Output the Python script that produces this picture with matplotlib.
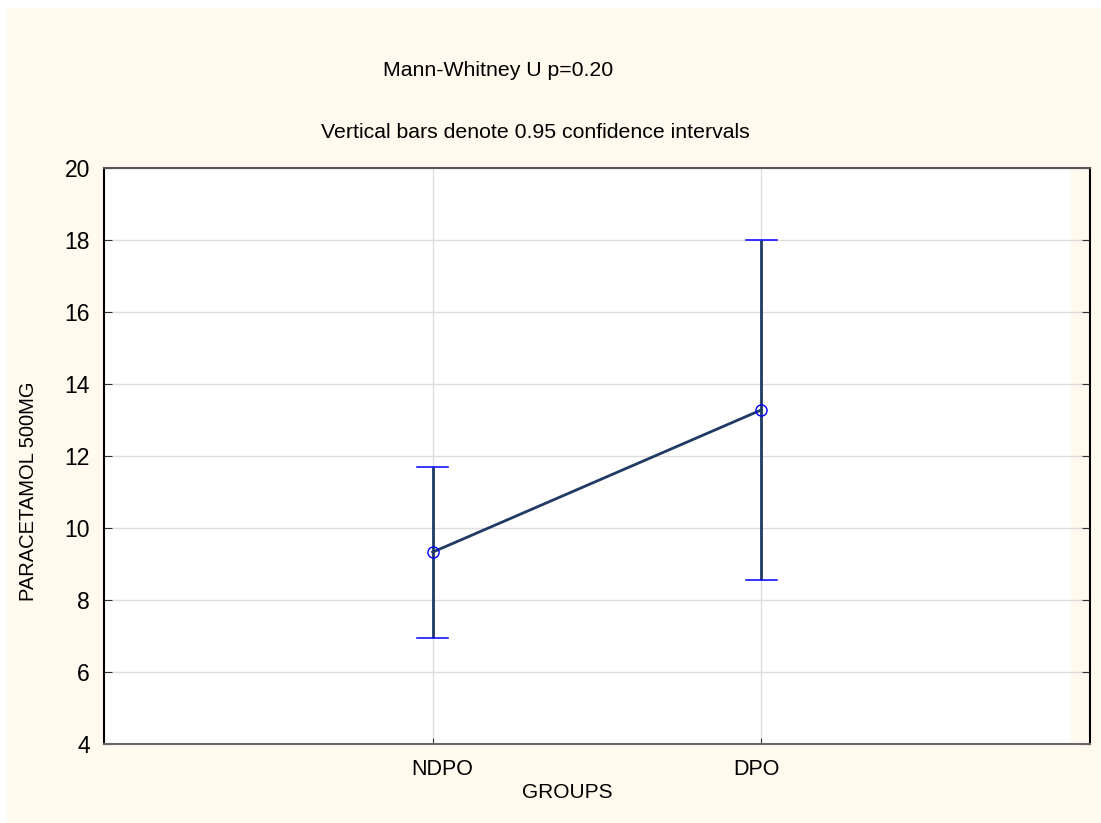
import numpy as np
import matplotlib.pyplot as plt
from matplotlib.patches import Rectangle
from matplotlib.transforms import ScaledTranslation

plt.rcParams['font.family'] = ['Liberation Sans', 'DejaVu Sans']

groups = ['NDPO', 'DPO']
means = [9.33, 13.28]
ci_low = [6.94, 8.56]
ci_high = [11.69, 18.0]

cream = '#fff9ee'
navy = '#1f3a64'
blue = '#0000ff'

W, H = 1101, 823
fig = plt.figure(figsize=(W / 100, H / 100), dpi=100)
fig.patches.append(Rectangle((7 / W, 0), 1 - 7 / W, 1 - 8 / H,
                             transform=fig.transFigure, facecolor=cream,
                             edgecolor='none', zorder=-10))

ax = fig.add_axes([104 / W, 1 - 744 / H, (1090 - 104) / W, (744 - 168) / H])
ax.set_facecolor('white')

x = np.arange(1, len(groups) + 1)
m = np.array(means)
lo = m - np.array(ci_low)
hi = np.array(ci_high) - m

ax.errorbar(x, m, yerr=[lo, hi], fmt='none', ecolor=navy, elinewidth=2,
            capsize=0, zorder=3)
for xi, l, h in zip(x, ci_low, ci_high):
    ax.plot([xi - 0.048, xi + 0.048], [l, l], color=blue, lw=1.1, zorder=4)
    ax.plot([xi - 0.048, xi + 0.048], [h, h], color=blue, lw=1.1, zorder=4)
ax.plot(x, m, color=navy, lw=2, zorder=3)
ax.plot(x, m, 'o', mfc='none', mec=blue, ms=8, mew=1, zorder=5)

# strip on the right side of the plot area
ax.add_patch(Rectangle((2.942, 4), 3 - 2.942, 16, facecolor=cream,
                       edgecolor='none', zorder=0))

ax.set_xlim(0, 3)
ax.set_ylim(4, 20)
ax.set_xticks(x)
ax.set_xticklabels(groups)
ax.set_yticks(np.arange(4, 21, 2))
ax.grid(True, color='#dddddd', lw=1, zorder=1)
ax.set_axisbelow(True)

ax.tick_params(axis='y', direction='in', length=6, labelsize=16.5, color='#333333',
               right=True, pad=10)
ax.tick_params(axis='x', direction='in', length=4, labelsize=15.5, color='#333333',
               pad=11)

# nudge the category labels sideways
for lab, dx in zip(ax.get_xticklabels(), [10, -5]):
    lab.set_transform(lab.get_transform() + ScaledTranslation(dx / 100, 0, fig.dpi_scale_trans))

ax.spines['left'].set_color('black')
ax.spines['right'].set_color('black')
ax.spines['top'].set_color('#555555')
ax.spines['bottom'].set_color('#666666')
for s in ax.spines.values():
    s.set_linewidth(1.5)

ax.set_xlabel('GROUPS', fontsize=15)
ax.xaxis.set_label_coords((567 - 104) / (1090 - 104), -(793 - 744) / (744 - 168))
ax.xaxis.label.set_va('center')
ax.set_ylabel('PARACETAMOL 500MG', fontsize=14.5)
ax.yaxis.set_label_coords(-(104 - 29) / (1090 - 104), (744 - 491) / (744 - 168))
ax.yaxis.label.set_va('center')

fig.text(498 / W, 1 - 70 / H, 'Mann-Whitney U p=0.20', ha='center',
         va='center', fontsize=15.3)
fig.text(535 / W, 1 - 133 / H, 'Vertical bars denote 0.95 confidence intervals',
         ha='center', va='center', fontsize=15.3)

fig.savefig('out.png', dpi=100)
plt.close(fig)
